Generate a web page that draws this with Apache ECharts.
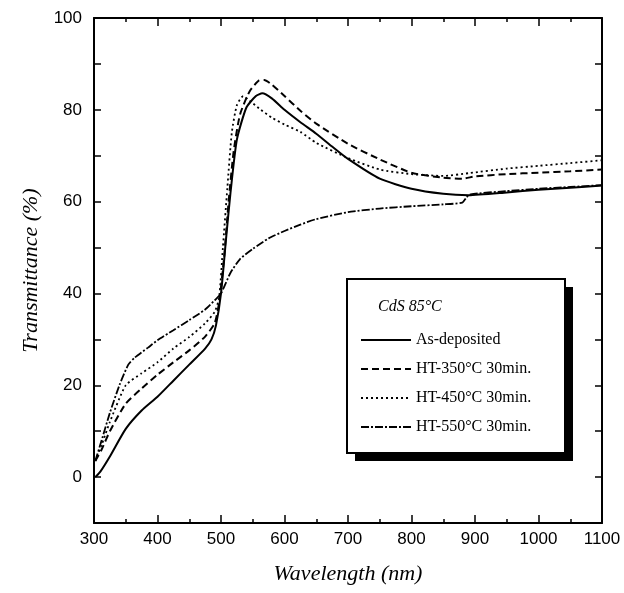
<!DOCTYPE html>
<html><head><meta charset="utf-8">
<script src="https://cdn.jsdelivr.net/npm/echarts@6/dist/echarts.min.js"></script>
<style>html,body{margin:0;padding:0;background:#fff}#c{width:624px;height:593px}</style>
</head><body><div id="c"></div>
<script>
// ---- data ----
const seriesNames = ['As-deposited', 'HT-350\u00B0C 30min.', 'HT-450\u00B0C 30min.', 'HT-550\u00B0C 30min.'];
const xTickLabels = [300, 400, 500, 600, 700, 800, 900, 1000, 1100];
const yTickLabels = [0, 20, 40, 60, 80, 100];

const asDepWl  = [302, 310, 325, 350, 375, 400, 425, 450, 475, 485, 492, 500, 508, 515, 525, 540, 555, 565, 580, 600, 625, 650, 675, 700, 750, 800, 850, 890, 950, 1000, 1050, 1100];
const asDepVal = [0, 1.2, 4.5, 10.5, 14.5, 17.5, 21, 24.5, 28, 30, 33, 40, 52, 62, 73.5, 80.5, 83, 83.6, 82.5, 80, 77.3, 74.8, 72, 69.3, 65, 62.8, 61.7, 61.4, 62, 62.6, 63, 63.5];

const ht350Wl  = [302, 312, 325, 350, 375, 400, 425, 450, 475, 490, 497, 505, 512, 520, 530, 545, 560, 568, 580, 600, 625, 650, 700, 750, 800, 850, 880, 900, 950, 1000, 1050, 1100];
const ht350Val = [3.5, 6, 10, 16, 19.3, 22.3, 25, 27.6, 30.6, 33.5, 38, 48, 60, 71, 79, 84, 86.4, 86.5, 85.5, 83, 79.8, 77, 72.6, 69.2, 66.3, 65.2, 65, 65.5, 66, 66.3, 66.6, 67];

const ht450Wl  = [302, 312, 325, 350, 375, 400, 425, 450, 475, 490, 497, 503, 510, 517, 525, 535, 545, 560, 580, 600, 625, 650, 700, 750, 800, 850, 890, 950, 1000, 1050, 1100];
const ht450Val = [3.5, 7, 12, 20, 22.6, 25, 28, 30.5, 33.5, 36, 39, 50, 63, 75, 81, 83, 82, 80.3, 78.3, 76.8, 75.2, 72.8, 69.5, 67, 66, 65.6, 66.2, 67.2, 67.8, 68.4, 69];

const ht550Wl  = [302, 312, 325, 340, 354, 364, 385, 400, 425, 450, 475, 490, 500, 515, 530, 550, 575, 600, 625, 650, 700, 750, 800, 850, 880, 887, 893, 950, 1000, 1050, 1100];
const ht550Val = [3.5, 8, 14, 20, 24.5, 26, 28.2, 29.8, 32, 34.2, 36.5, 38.5, 40, 44.5, 47.5, 49.7, 52, 53.6, 55, 56.2, 57.7, 58.5, 59, 59.4, 59.8, 61, 61.6, 62.3, 62.8, 63.2, 63.6];

// ---- build ----
function pairs(xs, ys){ return xs.map((x,i)=>[x, ys[i]]); }
const styles = [
  {type:'solid', width:2},
  {type:[7,4], width:2},
  {type:[2,3], width:1.8},
  {type:[8,2,2,2], width:1.8}
];
const dataSets = [pairs(asDepWl, asDepVal), pairs(ht350Wl, ht350Val), pairs(ht450Wl, ht450Val), pairs(ht550Wl, ht550Val)];

const chart = echarts.init(document.getElementById('c'), null, {renderer:'canvas'});
const axisLine = {show:true, onZero:false, lineStyle:{color:'#000', width:2}};
const sans = 'Liberation Sans';
const serif = 'Liberation Serif';
const tickStyle = {color:'#000', width:1.5};
const option = {
  animation:false,
  backgroundColor:'#fff',
  grid:{left:94, top:18, right:22, bottom:70, containLabel:false},
  xAxis:[
    {type:'value', min:300, max:1100, interval:100, position:'bottom',
     axisLine, splitLine:{show:false},
     axisTick:{inside:true, length:8, lineStyle:tickStyle},
     minorTick:{show:true, splitNumber:2, length:4, lineStyle:tickStyle},
     axisLabel:{color:'#000', fontFamily:sans, fontSize:17, margin:8,
       formatter:v=> xTickLabels.includes(v) ? String(v) : ''},
     name:'Wavelength (nm)', nameLocation:'middle', nameGap:40,
     nameTextStyle:{fontFamily:serif, fontStyle:'italic', fontSize:22, color:'#000'}},
    {type:'value', min:300, max:1100, interval:100, position:'top',
     axisLine, splitLine:{show:false},
     axisTick:{inside:true, length:8, lineStyle:tickStyle},
     minorTick:{show:true, splitNumber:2, length:4, lineStyle:tickStyle},
     axisLabel:{show:false}}
  ],
  yAxis:[
    {type:'value', min:-10, max:100, interval:10, position:'left',
     axisLine, splitLine:{show:false},
     axisTick:{inside:true, length:7, lineStyle:tickStyle},
     axisLabel:{color:'#000', fontFamily:sans, fontSize:17, margin:12,
       formatter:v=> yTickLabels.includes(v) ? String(v) : ''},
     name:'Transmittance (%)', nameLocation:'middle', nameGap:52,
     nameTextStyle:{fontFamily:serif, fontStyle:'italic', fontSize:22, color:'#000'}},
    {type:'value', min:-10, max:100, interval:10, position:'right',
     axisLine, splitLine:{show:false},
     axisTick:{inside:true, length:7, lineStyle:tickStyle},
     axisLabel:{show:false}}
  ],
  legend:{
    show:true, orient:'vertical', left:355, top:327,
    itemWidth:50, itemHeight:14, itemGap:13,
    itemStyle:{color:'rgba(0,0,0,0)', borderWidth:0, opacity:0},
    textStyle:{fontFamily:serif, fontSize:16, color:'#000'},
    data:seriesNames, z:20
  },
  graphic:[
    {type:'rect', z:10, shape:{x:355, y:287, width:218, height:174}, style:{fill:'#000'}},
    {type:'rect', z:11, shape:{x:347, y:279, width:218, height:174}, style:{fill:'#fff', stroke:'#000', lineWidth:2}},
    {type:'text', z:12, left:378, top:299, style:{text:'CdS 85\u00B0C', font:'italic 16px "Liberation Serif"', fill:'#000'}}
  ],
  series: dataSets.map((d,i)=>({
    name:seriesNames[i], type:'line', data:d, showSymbol:false, symbol:'none',
    smooth:0.2, clip:true,
    lineStyle:{color:'#000', width:styles[i].width, type:styles[i].type},
    itemStyle:{color:'#000'}
  }))
};
chart.setOption(option);
</script></body></html>
